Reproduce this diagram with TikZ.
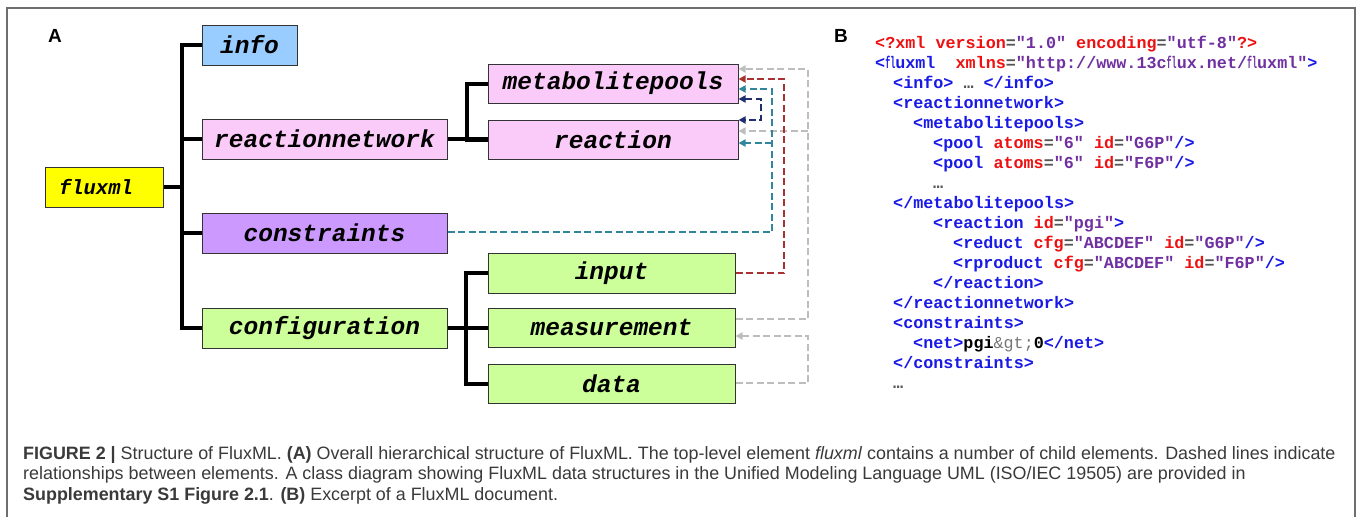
\documentclass[tikz,border=0pt]{standalone}
\usepackage{graphicx}
\usepackage{fontspec}
\setmainfont{Liberation Sans}
\newfontfamily\monofnt{Liberation Mono}
\usetikzlibrary{arrows.meta,calc}
\definecolor{cinfo}{HTML}{99CCFF}
\definecolor{cpink}{HTML}{FACBF8}
\definecolor{cpurple}{HTML}{CC99FF}
\definecolor{cgreen}{HTML}{CCFF99}
\definecolor{cyellow}{HTML}{FFFF00}
\definecolor{cborder}{HTML}{333333}
\definecolor{dgray}{HTML}{BDBDBD}
\definecolor{dred}{HTML}{A83232}
\definecolor{dteal}{HTML}{31869B}
\definecolor{dnavy}{HTML}{1F2E6E}
\definecolor{xblue}{HTML}{1A1AE6}
\definecolor{xred}{HTML}{EE1111}
\definecolor{xpurple}{HTML}{7030A0}
\definecolor{xeq}{HTML}{555555}
\definecolor{xgt}{HTML}{777777}
\definecolor{captxt}{HTML}{3A3A3A}
\definecolor{framec}{HTML}{6E6E6E}
\newcommand\xmB[1]{\textcolor{xblue}{#1}}
\newcommand\xmR[1]{\textcolor{xred}{#1}}
\newcommand\xmP[1]{\textcolor{xpurple}{#1}}
\newcommand\xmE{\textcolor{xeq}{=}}
\newcommand\xmDots{\textcolor{xeq}{…}}
\newcommand\xmFl{\scalebox{0.5}[1]{fl}}
\tikzset{
  elbox/.style={draw=cborder, line width=1pt, inner sep=0pt, minimum height=40pt,
    font=\monofnt\bfseries\itshape\fontsize{24.5}{28}\selectfont, text=black},
  tree/.style={line width=4pt, black, line join=miter},
  dl/.style={dash pattern=on 7pt off 3.5pt, line width=1.8pt},
  tip/.style={-{Triangle[length=7pt,width=7pt]}},
  xml/.style={anchor=base west, inner sep=0pt, font=\monofnt\bfseries\fontsize{16.75}{20}\selectfont},
  captionline/.style={anchor=base west, inner sep=0pt, text=captxt, font=\fontsize{17.9}{21}\selectfont},
  plabel/.style={inner sep=0pt, font=\bfseries\fontsize{19}{22}\selectfont}
}
\begin{document}
\begin{tikzpicture}[x=1pt,y=-1pt]
\useasboundingbox (0,0) rectangle (1357,517);
\fill[white] (0,0) rectangle (1357,517);
\draw[framec, line width=1.5pt] (7,517) -- (7,8) -- (1355,8) -- (1355,517);

% panel labels
\node[plabel] (labA) at (55,36) {A};
\node[plabel] (labB) at (841,36) {B};

% element boxes
\node[elbox, fill=cyellow, minimum width=118pt, minimum height=40pt,
  font=\monofnt\bfseries\itshape\fontsize{20.5}{24}\selectfont] (fluxml) at (104,187) {\hspace*{-16pt}fluxml};
\node[elbox, fill=cinfo, minimum width=95pt] (info) at (249.5,45) {info};
\node[elbox, fill=cpink, minimum width=245pt] (reactionnetwork) at (324.5,139) {reactionnetwork};
\node[elbox, fill=cpurple, minimum width=245pt] (constraints) at (324.5,233) {constraints};
\node[elbox, fill=cgreen, minimum width=245pt] (configuration) at (324.5,328) {configuration};
\node[elbox, fill=cpink, minimum width=250pt, minimum height=39pt] (metabolitepools) at (613,83.5) {metabolitepools};
\node[elbox, fill=cpink, minimum width=250pt, minimum height=39pt] (reaction) at (613,139.5) {reaction};
\node[elbox, fill=cgreen, minimum width=247pt] (input) at (611.5,273) {input};
\node[elbox, fill=cgreen, minimum width=247pt, minimum height=39pt] (measurement) at (611.5,327.5) {measurement};
\node[elbox, fill=cgreen, minimum width=247pt, minimum height=39pt] (data) at (611.5,383.5) {data};

% tree
\draw[tree] (info.west) -- ++(-20,0) |- (configuration.west);
\draw[tree] (reactionnetwork.west) -- ++(-20,0);
\draw[tree] (constraints.west) -- ++(-20,0);
\draw[tree] (fluxml.east) -- ++(19.5,0);
\draw[tree] (metabolitepools.west) -- ++(-21,0) |- (reaction.west);
\draw[tree] (reactionnetwork.east) -- (reaction.west |- reactionnetwork.east);
\draw[tree] (input.west) -- ++(-22,0) |- (data.west);
\draw[tree] (configuration.east) -- (measurement.west |- configuration.east);

% dashed relationships
\coordinate (gx) at (808,0);
\coordinate (rx) at (784,0);
\coordinate (tx) at (772,0);
\coordinate (nx) at (761,0);

\coordinate (g1s) at ($(measurement.east)+(0,-8.5)$);
\coordinate (g1e) at ($(metabolitepools.east)+(0,-14.5)$);
\coordinate (g2e) at ($(reaction.east)+(0,-8.5)$);
\coordinate (g3s) at ($(data.east)+(0,-0.5)$);
\coordinate (g3e) at ($(measurement.east)+(0,8.5)$);
\draw[dl, dgray, tip] (g1s) -- (g1s -| gx) -- (g1e -| gx) -- (g1e);
\draw[dl, dgray, tip] (g2e -| gx) -- (g2e);
\draw[dl, dgray, tip] (g3s) -- (g3s -| gx) -- (g3e -| gx) -- (g3e);

\coordinate (r1e) at ($(metabolitepools.east)+(0,-4.5)$);
\draw[dl, dred, tip] (input.east) -- (input.east -| rx) -- (r1e -| rx) -- (r1e);

\coordinate (t1s) at ($(constraints.east)+(0,-1)$);
\coordinate (t1e) at ($(metabolitepools.east)+(0,5.5)$);
\coordinate (t2e) at ($(reaction.east)+(0,3.5)$);
\draw[dl, dteal, tip] (t1s) -- (t1s -| tx) -- (t1e -| tx) -- (t1e);
\draw[dl, dteal, tip] (t2e -| tx) -- (t2e);

\coordinate (n1) at ($(metabolitepools.east)+(0,15.5)$);
\coordinate (n2) at ($(reaction.east)+(0,-19.5)$);
\draw[dl, dnavy, {Triangle[length=7pt,width=7pt]}-{Triangle[length=7pt,width=7pt]}] (n1) -- (n1 -| nx) -- (n2 -| nx) -- (n2);

% XML excerpt
\node[xml] (x1) at (875,48) {\xmR{<?xml version}\xmE\xmP{"1.0"} \xmR{encoding}\xmE\xmP{"utf-8"}\xmR{?>}};
\node[xml] (x2) at (875,68) {\xmB{<\xmFl uxml}\ \ \xmR{xmlns}\xmE\xmP{"http://www.13c\xmFl ux.net/\xmFl uxml"}\xmB{>}};
\node[xml] (x3) at (893,88) {\xmB{<info>} \xmDots{} \xmB{</info>}};
\node[xml] (x4) at (893,108) {\xmB{<reactionnetwork>}};
\node[xml] (x5) at (913,128) {\xmB{<metabolitepools>}};
\node[xml] (x6) at (933,148) {\xmB{<pool} \xmR{atoms}\xmE\xmP{"6"} \xmR{id}\xmE\xmP{"G6P"}\xmB{/>}};
\node[xml] (x7) at (933,168) {\xmB{<pool} \xmR{atoms}\xmE\xmP{"6"} \xmR{id}\xmE\xmP{"F6P"}\xmB{/>}};
\node[xml] (x8) at (933,188) {\xmDots};
\node[xml] (x9) at (893,208) {\xmB{</metabolitepools>}};
\node[xml] (x10) at (933,228) {\xmB{<reaction} \xmR{id}\xmE\xmP{"pgi"}\xmB{>}};
\node[xml] (x11) at (953,248) {\xmB{<reduct} \xmR{cfg}\xmE\xmP{"ABCDEF"} \xmR{id}\xmE\xmP{"G6P"}\xmB{/>}};
\node[xml] (x12) at (953,268) {\xmB{<rproduct} \xmR{cfg}\xmE\xmP{"ABCDEF"} \xmR{id}\xmE\xmP{"F6P"}\xmB{/>}};
\node[xml] (x13) at (933,288) {\xmB{</reaction>}};
\node[xml] (x14) at (893,308) {\xmB{</reactionnetwork>}};
\node[xml] (x15) at (893,328) {\xmB{<constraints>}};
\node[xml] (x16) at (913,348) {\xmB{<net>}pgi{\mdseries\textcolor{xgt}{\&gt;}}0\xmB{</net>}};
\node[xml] (x17) at (893,368) {\xmB{</constraints>}};
\node[xml] (x18) at (893,388) {\xmDots};

% caption
\node[captionline] (c1) at (23,459) {\textbf{FIGURE 2 |} Structure of FluxML. \textbf{(A)} Overall hierarchical structure of FluxML. The top-level element \textit{fluxml} contains a number of child elements. Dashed lines indicate};
\node[captionline] (c2) at (23,479.5) {relationships between elements. A class diagram showing FluxML data structures in the Unified Modeling Language UML (ISO/IEC 19505) are provided in};
\node[captionline] (c3) at (23,500) {\textbf{Supplementary S1 Figure 2.1}. \textbf{(B)} Excerpt of a FluxML document.};
\end{tikzpicture}
\end{document}
